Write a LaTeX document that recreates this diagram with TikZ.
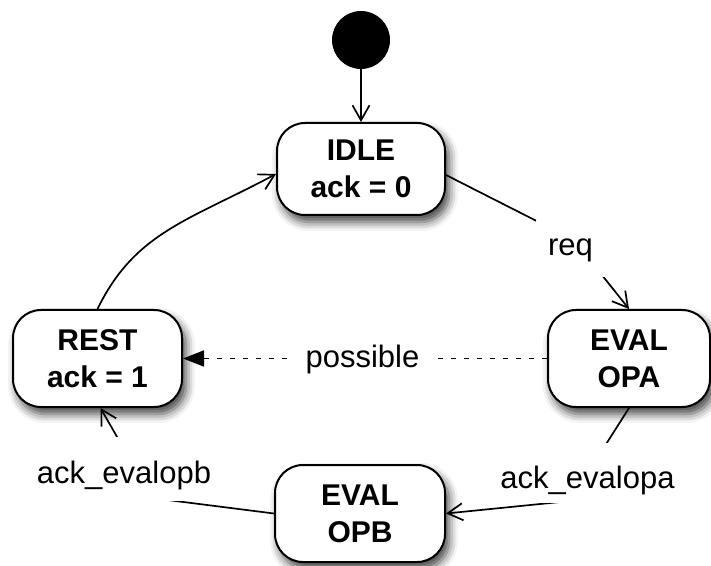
\documentclass[tikz,border=0pt]{standalone}
\usepackage{fontspec}
\setmainfont{Liberation Sans}
\usetikzlibrary{arrows.meta,shadows.blur}
\begin{document}
\begin{tikzpicture}[x=1pt,y=1pt,
  state/.style={draw=black, line width=2pt, fill=white, rounded corners=28pt,
    inner sep=0pt, align=center, font=\fontsize{30}{37}\selectfont\bfseries,
    blur shadow={shadow xshift=4pt, shadow yshift=-7pt, shadow blur radius=9pt, shadow opacity=75}},
  lbl/.style={fill=white, inner xsep=12pt, inner ysep=6pt, font=\fontsize{31}{36}\selectfont, anchor=base},
  tr/.style={line width=1.7pt, -{Straight Barb[length=15pt,width=17pt,line width=1.7pt]}},
  poss/.style={line width=1.8pt, dash pattern=on 5pt off 8pt, -{Triangle[length=21pt,width=16pt]}}
]
\useasboundingbox (0,0) rectangle (711,565);
% states
\node[circle, fill=black, minimum size=58pt, inner sep=0pt] (init) at (361,525) {};
\node[state, minimum width=168pt, minimum height=92pt] (idle) at (361,396) {IDLE\\ack = 0};
\node[state, minimum width=169pt, minimum height=97pt] (rest) at (97.5,206.5) {REST\\ack = 1};
\node[state, minimum width=162pt, minimum height=97pt] (opa) at (629,206.5) {EVAL\\OPA};
\node[state, minimum width=170pt, minimum height=97pt] (opb) at (360,51.5) {EVAL\\OPB};
% bend points hidden under the labels
\coordinate (kreq) at (574,325);
\coordinate (ka) at (570,64);
\coordinate (kb) at (152,67);
% transitions
\draw[tr] (init) -- (idle);
\draw[tr] ([yshift=-6pt]idle.east) -- (kreq) -- (opa.north);
\draw[tr] (opa.south) -- (ka) -- (opb.east);
\draw[tr] (opb.west) -- (kb) -- ([xshift=3pt]rest.south);
\draw[tr] (rest.north) .. controls +(64:85) and +(208:100) .. ([yshift=-5pt]idle.west);
\draw[poss] (opa.west) -- (rest.east);
% labels
\node[lbl, text height=30pt, text depth=15pt] (lreq) at (570.5,309) {req};
\node[lbl, inner xsep=13pt] (lposs) at (362.5,198) {possible};
\node[lbl, inner xsep=8pt, text height=39pt, text depth=9pt] (lopa) at (587.5,77) {ack\_evalopa};
\node[lbl, inner xsep=6pt, text height=40pt, text depth=12pt] (lopb) at (124,82) {ack\_evalopb};
\end{tikzpicture}
\end{document}
